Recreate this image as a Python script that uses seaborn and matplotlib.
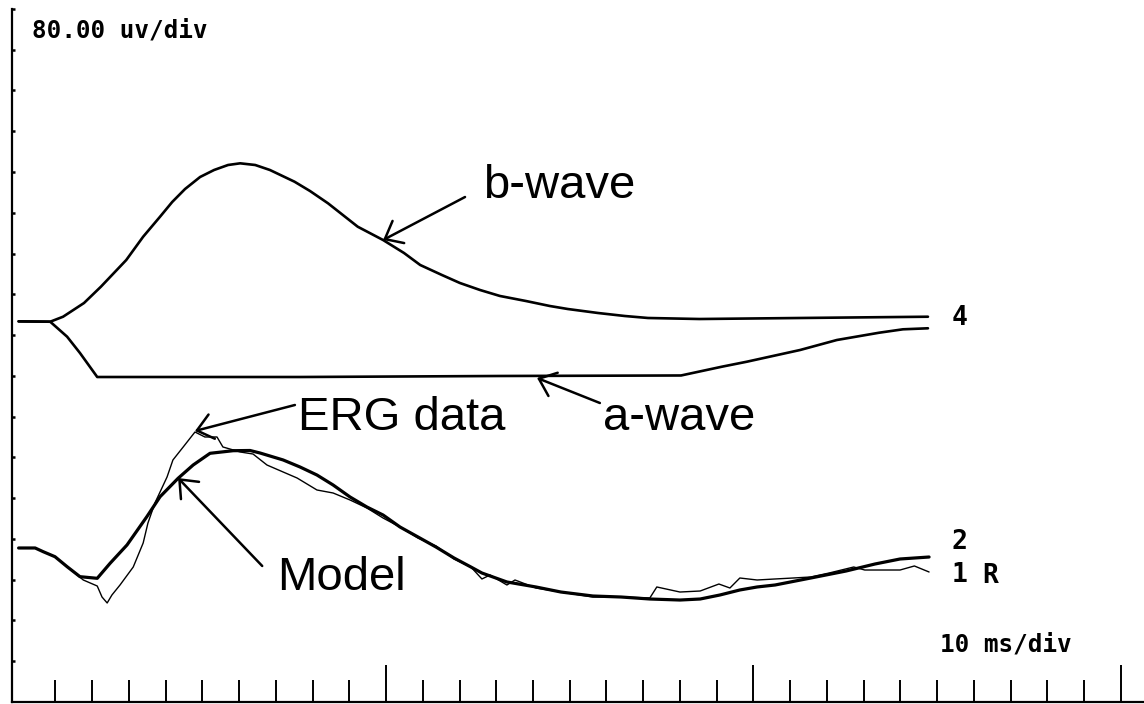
import numpy as np
import pandas as pd
import matplotlib
matplotlib.use("Agg")
import matplotlib.pyplot as plt
import seaborn as sns

# ---- recorded traces (time in ms, amplitude in uV on the display scale) ----
# trace 4: b-wave (upper) and a-wave (lower) components
bwave_t = [0, 8.6, 12.1, 17.8, 22.4, 29.3, 33.9, 38.5, 41.8, 45.3, 49.4, 53.2,
           57.0, 60.3, 64.4, 68.4, 75.1, 79.3, 84.2, 92.3, 99.2, 104.9, 109.3,
           115.2, 120.1, 125.6, 131.0, 138.1, 144.6, 149.5, 157.7, 165.0,
           171.3, 185.3, 212.7, 247.5]
bwave_v = [746.9, 746.2, 756.0, 782.9, 814.9, 867.3, 913.0, 952.3, 981.1,
           1006.6, 1030.2, 1043.9, 1053.7, 1057.0, 1053.7, 1043.9, 1020.9,
           1002.7, 978.6, 932.6, 906.5, 881.0, 857.5, 837.9, 822.2, 808.4,
           796.7, 786.8, 777.0, 771.1, 763.3, 757.4, 753.5, 751.5, 753.5, 756.0]

awave_t = [0, 8.6, 13.2, 16.7, 21.4, 76.6, 131.0, 180.3, 191.4, 198.2, 212.7,
           222.7, 234.2, 240.7, 247.5]
awave_v = [746.9, 746.2, 716.8, 684.8, 637.7, 637.7, 639.7, 640.7, 657.9,
           667.7, 690.7, 710.3, 724.6, 731.3, 733.3]

# trace 2: model fit
model_t = [0, 4.5, 6.7, 9.9, 13.2, 16.7, 21.4, 24.9, 29.5, 34.9, 38.5, 43.4,
           47.5, 52.1, 58.4, 63.0, 65.7, 72.0, 76.6, 81.2, 85.6, 90.2, 94.8,
           99.2, 103.8, 108.7, 113.6, 118.5, 123.1, 126.1, 132.9, 140.8, 147.6,
           156.3, 164.0, 171.8, 180.0, 185.5, 190.9, 196.3, 201.0, 205.9,
           215.6, 225.2, 233.1, 239.9, 247.8]
model_v = [302.2, 302.2, 294.9, 285.1, 265.5, 245.9, 242.7, 272.2, 308.1,
           363.6, 402.8, 438.9, 465.0, 488.0, 493.1, 493.5, 488.6, 474.9,
           461.1, 445.4, 425.8, 402.3, 382.6, 366.9, 343.4, 323.8, 304.1,
           282.6, 264.9, 253.1, 235.5, 225.7, 215.8, 208.0, 206.0, 202.1,
           200.1, 202.1, 210.0, 219.8, 225.7, 229.6, 243.3, 257.0, 270.8,
           280.6, 284.5]

# trace 1: recorded ERG
erg_t = [0, 4.5, 6.7, 9.9, 13.2, 17.6, 21.4, 22.7, 24.1, 25.4, 27.6, 31.2,
         33.9, 35.2, 37.1, 40.4, 42.0, 44.8, 48.0, 50.7, 54.0, 55.6, 60.3,
         63.8, 67.6, 72.0, 75.8, 81.2, 85.6, 90.2, 94.8, 99.2, 103.8, 108.7,
         113.6, 118.5, 123.1, 126.1, 128.3, 132.9, 135.1, 140.8, 147.6, 156.3,
         164.0, 171.8, 173.7, 180.0, 185.5, 190.6, 193.6, 196.3, 201.0, 205.9,
         210.8, 215.6, 220.6, 227.3, 230.3, 239.9, 243.8, 247.8]
erg_v = [302.2, 302.2, 294.9, 285.1, 265.5, 239.4, 227.6, 206.0, 194.3, 210.0,
         229.6, 264.9, 312.0, 351.2, 390.5, 441.5, 474.9, 500.4, 529.8, 520.0,
         520.0, 500.4, 490.6, 486.6, 465.0, 451.3, 439.5, 416.0, 410.1, 396.4,
         380.7, 361.0, 343.4, 321.8, 306.1, 280.6, 264.9, 241.4, 249.2, 229.6,
         239.4, 223.7, 215.8, 206.0, 206.0, 204.1, 225.7, 215.8, 217.8, 231.5,
         223.7, 243.3, 239.4, 241.4, 243.3, 245.3, 253.1, 264.9, 259.0, 259.0,
         266.9, 255.1]

# display scales
x_minor = list(range(10, 301, 10))
x_major = [100, 200, 300]
y_ticks = list(range(80, 1361, 80))

# ---- figure ----
sns.set_theme(style="white")
plt.rcParams["font.family"] = ["DejaVu Sans"]

fig = plt.figure(figsize=(11.44, 7.04), dpi=100)
ax = fig.add_axes([12 / 1144, 2 / 704, 1 - 12 / 1144, 1 - 10.9 / 704])

traces = [
    (bwave_t, bwave_v, 1.9),
    (awave_t, awave_v, 1.9),
    (model_t, model_v, 2.3),
    (erg_t, erg_v, 1.0),
]
for t, v, lw in traces:
    df = pd.DataFrame({"t": t, "v": v})
    sns.lineplot(data=df, x="t", y="v", color="black", lw=lw,
                 errorbar=None, sort=False, ax=ax)

ax.set_xlim(-1.8, 306.3)
ax.set_ylim(0, 1360)
ax.set_xlabel("")
ax.set_ylabel("")

# axes frame: left and bottom only, ticks pointing inward
for side in ("top", "right"):
    ax.spines[side].set_visible(False)
for side in ("left", "bottom"):
    ax.spines[side].set_color("black")
    ax.spines[side].set_linewidth(1.6)

ax.set_xticks(x_major)
ax.set_xticks([m for m in x_minor if m not in x_major], minor=True)
ax.set_yticks(y_ticks)
ax.tick_params(axis="x", which="major", direction="in", length=27, width=1.4,
               color="black", labelbottom=False, bottom=True)
ax.tick_params(axis="x", which="minor", direction="in", length=15.5, width=1.4,
               color="black", bottom=True)
ax.tick_params(axis="y", which="major", direction="in", length=2.5, width=1.8,
               color="black", labelleft=False, left=True)
ax.grid(False)

# scale readouts and trace numbers
mono = dict(family="DejaVu Sans Mono", weight="bold", color="black")
ax.text(3.7, 1303, "80.00 uv/div", fontsize=17.5, ha="left", va="baseline", **mono)
ax.text(250.8, 100, "10 ms/div", fontsize=17.5, ha="left", va="baseline", **mono)
ax.text(256.2, 753, "4", fontsize=19, ha="center", va="center", **mono)
ax.text(256.2, 314, "2", fontsize=19, ha="center", va="center", **mono)
ax.text(256.2, 249, "1", fontsize=19, ha="center", va="center", **mono)
ax.text(264.4, 247, "R", fontsize=19, ha="center", va="center", **mono)

# component labels with pointer arrows
sans = dict(family="Liberation Sans", fontsize=34, color="black",
            ha="left", va="baseline")
ax.text(126.4, 989, "b-wave", **sans)
ax.text(76.1, 534, "ERG data", **sans)
ax.text(159.0, 534, "a-wave", **sans)
ax.text(70.3, 220, "Model", **sans)

arrow = dict(arrowstyle="->,head_length=0.55,head_width=0.45", color="black",
             lw=1.8, shrinkA=0, shrinkB=0, mutation_scale=20)
pointers = [
    ((99.2, 906.5), (121.5, 990.9)),
    ((141.1, 635.8), (158.2, 586.7)),
    ((48.0, 531.8), (75.2, 582.8)),
    ((43.4, 439.5), (66.3, 266.9)),
]
for tip, tail in pointers:
    ax.annotate("", xy=tip, xytext=tail, arrowprops=arrow)

fig.savefig("out.png", dpi=100)
